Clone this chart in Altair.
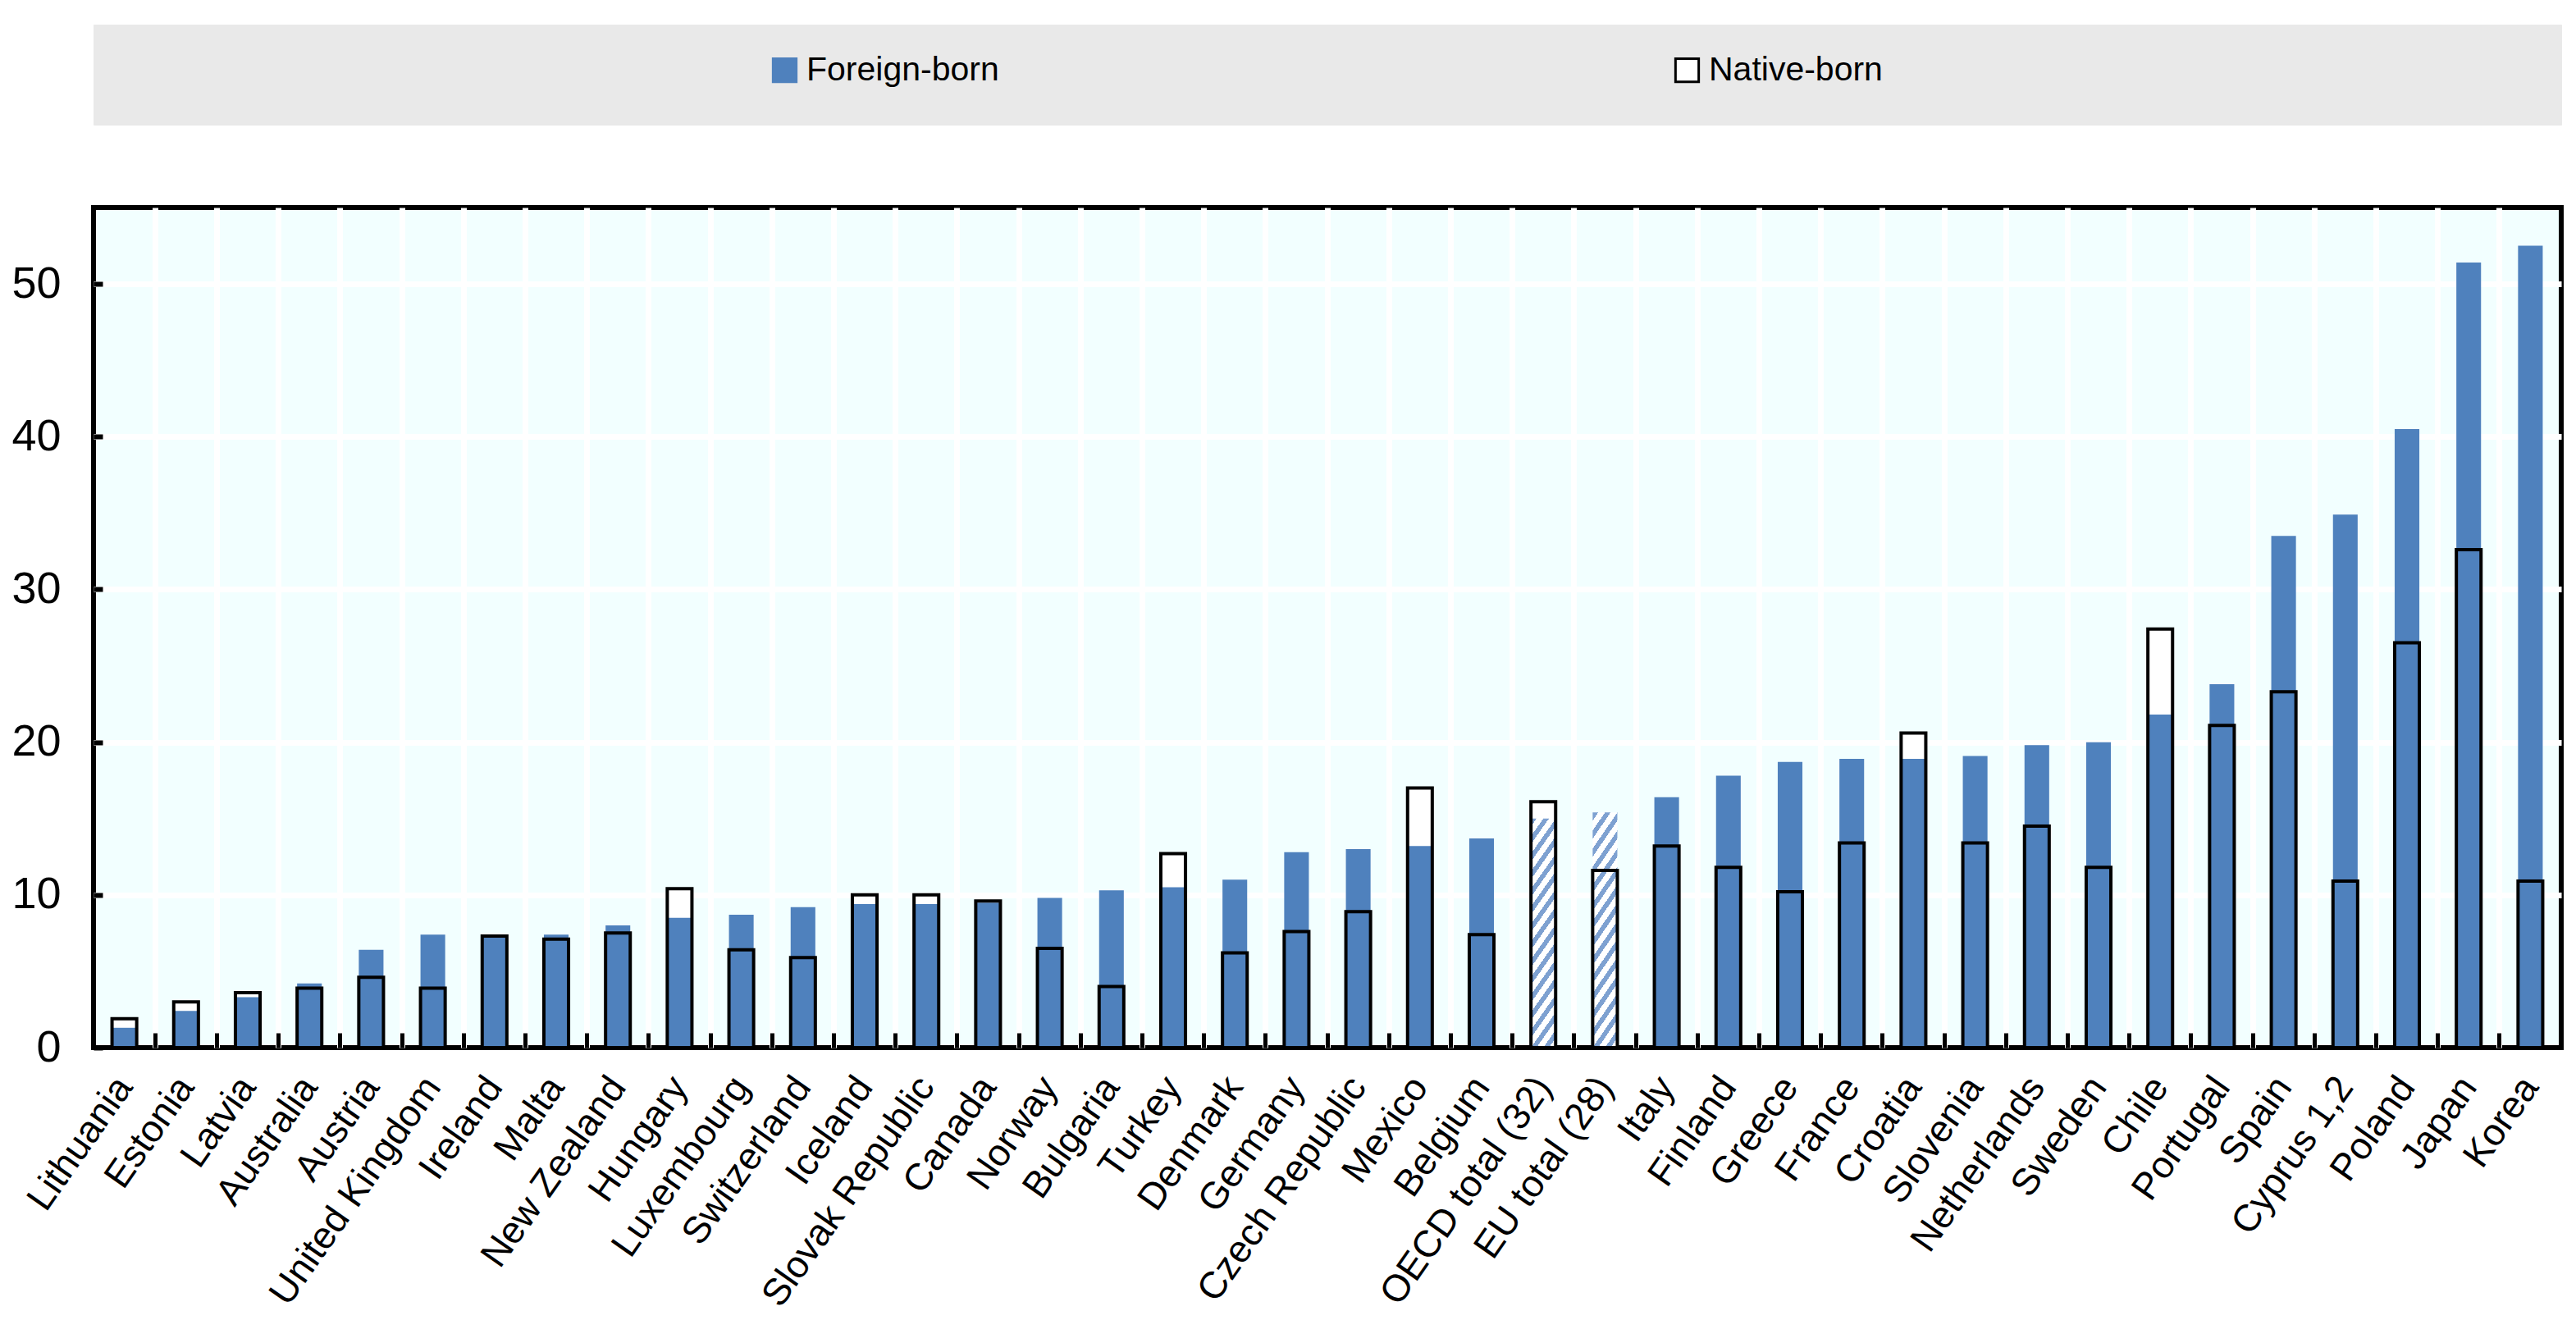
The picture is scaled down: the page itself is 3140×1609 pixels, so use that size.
import altair as alt
import pandas as pd

# ---------------- data ----------------
countries = ["Lithuania", "Estonia", "Latvia", "Australia", "Austria", "United Kingdom",
             "Ireland", "Malta", "New Zealand", "Hungary", "Luxembourg", "Switzerland",
             "Iceland", "Slovak Republic", "Canada", "Norway", "Bulgaria", "Turkey",
             "Denmark", "Germany", "Czech Republic", "Mexico", "Belgium", "OECD total (32)",
             "EU total (28)", "Italy", "Finland", "Greece", "France", "Croatia", "Slovenia",
             "Netherlands", "Sweden", "Chile", "Portugal", "Spain", "Cyprus 1,2", "Poland",
             "Japan", "Korea"]
foreign = [1.3, 2.4, 3.3, 4.2, 6.4, 7.4, 7.2, 7.4, 8.0, 8.5, 8.7, 9.2, 9.4, 9.4, 9.5,
           9.8, 10.3, 10.5, 11.0, 12.8, 13.0, 13.2, 13.7, 15.0, 15.4, 16.4, 17.8, 18.7,
           18.9, 18.9, 19.1, 19.8, 20.0, 21.8, 23.8, 33.5, 34.9, 40.5, 51.4, 52.5]
native = [1.9, 3.0, 3.6, 3.9, 4.6, 3.9, 7.3, 7.1, 7.5, 10.4, 6.4, 5.9, 10.0, 10.0, 9.6,
          6.5, 4.0, 12.7, 6.2, 7.6, 8.9, 17.0, 7.4, 16.1, 11.6, 13.2, 11.8, 10.2, 13.4,
          20.6, 13.4, 14.5, 11.8, 27.4, 21.1, 23.3, 10.9, 26.5, 32.6, 10.9]
totals = ["OECD total (32)", "EU total (28)"]
series = ["Foreign-born", "Native-born"]
y_ticks = [0, 10, 20, 30, 40, 50]
y_grid = [10, 20, 30, 40, 50]

# ---------------- style ----------------
FONT = "Liberation Sans, Arial, sans-serif"
W, H = 3008, 1024
BLUE = "#4F81BD"
BG = "#F2FFFF"

# diagonal hatch for the aggregate bars (gradient stripes)
stripe, gap = "#7EA1D1", "#FFFFFF"
n_str = 15
stops = []
for i in range(n_str):
    a = i / n_str
    m = (i + 0.45) / n_str
    b = (i + 1) / n_str
    stops += [alt.GradientStop(color=stripe, offset=a), alt.GradientStop(color=stripe, offset=m),
              alt.GradientStop(color=gap, offset=m), alt.GradientStop(color=gap, offset=b)]
HATCH = alt.LinearGradient(gradient="linear", stops=stops, x1=0, y1=0, x2=0.1724, y2=1.1268)

df = pd.DataFrame({"country": countries, "foreign": foreign, "native": native})
df["is_total"] = df["country"].isin(totals)

xs = alt.Scale(paddingInner=0, paddingOuter=0)
ys = alt.Scale(domain=[0, 55], nice=False, zero=True)
bar_w = alt.RelativeBandSize(0.4)

# labels only
x_lab = alt.X("country:N", sort=countries, scale=xs,
              axis=alt.Axis(title=None, orient="bottom", grid=False, ticks=False, domain=False,
                            labelAngle=-55, labelAlign="right", labelBaseline="middle",
                            labelFont=FONT, labelFontSize=46, labelColor="black",
                            labelPadding=40, labelLimit=1000, labelOverlap=False))
y_lab = alt.Y("native:Q", scale=ys,
              axis=alt.Axis(title=None, orient="left", values=y_ticks, grid=False, ticks=False,
                            domain=False, labelFont=FONT, labelFontSize=54, labelColor="black",
                            labelPadding=40))
# white grid only (interior lines, so the frame stays visible)
x_grid = alt.X("country:N", sort=countries, scale=xs,
               axis=alt.Axis(title=None, orient="bottom", values=countries[1:], bandPosition=0,
                             grid=True, gridColor="white", gridWidth=7, labels=False,
                             ticks=False, domain=False))
y_grid_ax = alt.Y("foreign:Q", scale=ys,
                  axis=alt.Axis(title=None, orient="left", values=y_grid, grid=True,
                                gridColor="white", gridWidth=7, labels=False, ticks=False,
                                domain=False))
# inward ticks
x_tick = alt.X("country:N", sort=countries, scale=xs,
               axis=alt.Axis(title=None, orient="top", offset=-H, bandPosition=0, labels=False,
                             grid=False, domain=False, ticks=True, tickSize=18, tickWidth=5,
                             tickColor="black"))
y_tick = alt.Y("native:Q", scale=ys,
               axis=alt.Axis(title=None, orient="right", offset=-W, values=y_ticks,
                             labels=False, grid=False, domain=False, ticks=True, tickSize=11,
                             tickWidth=6, tickColor="black"))
x_none = alt.X("country:N", sort=countries, scale=xs, axis=None)

native_fill = alt.Chart(df).mark_bar(fill="white", width=bar_w).encode(x=x_lab, y=y_lab)
foreign_bars = (alt.Chart(df).transform_filter("!datum.is_total")
                .mark_bar(fill=BLUE, width=bar_w)
                .encode(x=x_grid, y=y_grid_ax))
hatched = (alt.Chart(df).transform_filter("datum.is_total")
           .mark_bar(fill=HATCH, width=bar_w)
           .encode(x=x_none, y=alt.Y("foreign:Q", scale=ys, axis=None)))
outline = (alt.Chart(df)
           .mark_bar(fill="transparent", stroke="black", strokeWidth=4, width=bar_w)
           .encode(x=x_tick, y=y_tick))

bars = (alt.layer(native_fill, foreign_bars, hatched, outline)
        .resolve_axis(x="independent", y="independent")
        .properties(width=W, height=H,
                    view=alt.ViewBackground(fill=BG, stroke="black", strokeWidth=6)))

legend_df = pd.DataFrame({"series": series})
legend_panel = (alt.Chart(legend_df).transform_filter("false").mark_bar()
                .encode(fill=alt.Fill("series:N",
                                      scale=alt.Scale(domain=series, range=[BLUE, "white"]),
                                      legend=alt.Legend(
                                          title=None, orient="none", legendX=822, legendY=35,
                                          direction="horizontal", symbolType="square",
                                          symbolSize=800, symbolStrokeWidth=3,
                                          symbolStrokeColor=alt.ExprRef(
                                              expr="datum.value == 'Native-born' ? 'black' : '#4F81BD'"),
                                          symbolOpacity=1, labelFont=FONT, labelFontSize=41,
                                          labelColor="black", labelOffset=6, labelLimit=1000,
                                          columnPadding=818, padding=0)))
                .properties(width=W, height=122,
                            view=alt.ViewBackground(fill="#E9E9E9", stroke="#E9E9E9")))

chart = (alt.vconcat(legend_panel, bars, spacing=97)
         .properties(padding={"left": 2, "top": 21, "right": 5, "bottom": 5})
         .configure(font=FONT))

chart.save("out.html", embed_options={"renderer": "svg", "actions": False})
